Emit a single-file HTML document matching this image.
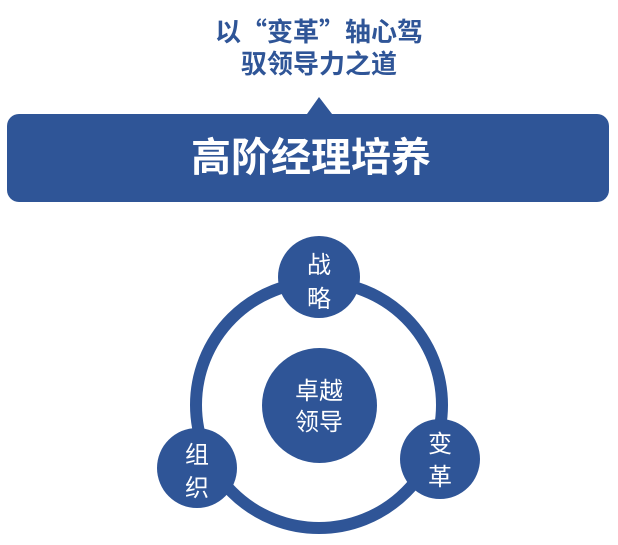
<!DOCTYPE html>
<html><head><meta charset="utf-8"><style>
body{margin:0;width:618px;height:545px;background:#fff;overflow:hidden;font-family:"Liberation Sans","Noto Sans CJK SC",sans-serif}
</style></head><body>
<svg width="618" height="545" xmlns="http://www.w3.org/2000/svg" style="position:absolute;left:0;top:0">
<g font-family="Liberation Sans, Noto Sans CJK SC, sans-serif" text-anchor="middle">
<text x="319" y="41" font-size="26" font-weight="bold" fill="#2f5597" font-family="Noto Sans CJK SC, sans-serif">以“变革”轴心驾</text>
<text x="319" y="73" font-size="26" font-weight="bold" fill="#2f5597" font-family="Noto Sans CJK SC, sans-serif">驭领导力之道</text>
<polygon points="307,114 319,97 332,114" fill="#2f5597"/>
<rect x="7" y="114" width="602" height="88" rx="12" fill="#2f5597"/>
<text x="311" y="171" font-size="40" font-weight="bold" fill="#fff">高阶经理培养</text>
<circle cx="319" cy="405" r="123" fill="none" stroke="#2f5597" stroke-width="12"/>
<circle cx="319" cy="277" r="41" fill="#2f5597"/>
<circle cx="319.5" cy="405.5" r="57.5" fill="#2f5597"/>
<circle cx="197" cy="468" r="40" fill="#2f5597"/>
<circle cx="440" cy="459" r="40" fill="#2f5597"/>
<g fill="#fff" font-size="24">
<text x="319" y="273">战</text><text x="319" y="307">略</text>
<text x="319" y="399">卓越</text><text x="319" y="430">领导</text>
<text x="197" y="463">组</text><text x="197" y="496">织</text>
<text x="440" y="452">变</text><text x="440" y="485">革</text>
</g>
</g>
</svg>
</body></html>
